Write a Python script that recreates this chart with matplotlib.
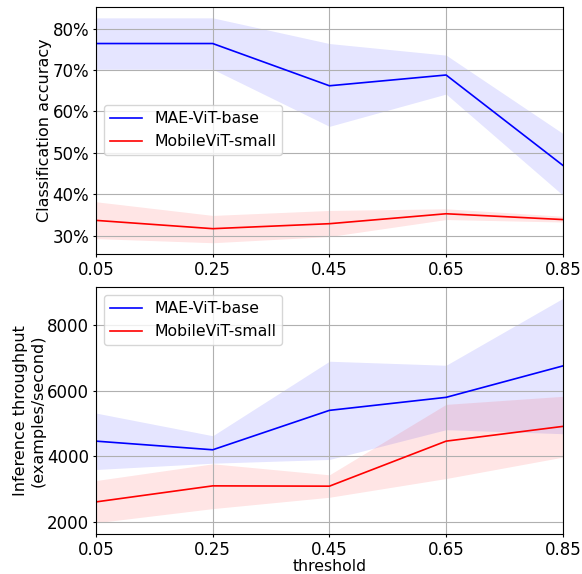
import matplotlib
matplotlib.use("Agg")
import matplotlib.pyplot as plt
from matplotlib.ticker import PercentFormatter

thresholds = [0.05, 0.25, 0.45, 0.65, 0.85]
series_names = ["MAE-ViT-base", "MobileViT-small"]
colors = ["blue", "red"]

# Classification accuracy (%) : mean, lower, upper
acc_mae = [76.4, 76.4, 66.2, 68.8, 47.0]
acc_mae_lo = [70.2, 70.2, 56.4, 64.2, 39.8]
acc_mae_hi = [82.6, 82.6, 76.4, 73.6, 54.7]
acc_mob = [33.7, 31.7, 32.9, 35.3, 33.9]
acc_mob_lo = [29.3, 28.3, 29.8, 33.9, 33.3]
acc_mob_hi = [38.2, 34.9, 36.1, 36.5, 34.7]

# Inference throughput (examples/second) : mean, lower, upper
thr_mae = [4465, 4203, 5398, 5793, 6745]
thr_mae_lo = [3605, 3796, 3909, 4812, 4690]
thr_mae_hi = [5316, 4629, 6888, 6766, 8793]
thr_mob = [2623, 3109, 3100, 4465, 4912]
thr_mob_lo = [1990, 2419, 2763, 3331, 3979]
thr_mob_hi = [3271, 3778, 3444, 5580, 5824]
thr_ticks = [2000, 4000, 6000, 8000]

plt.rcParams["font.size"] = 12

fig = plt.figure(figsize=(5.82, 5.74), dpi=100)
ax1 = fig.add_axes([0.165, 0.5575, 0.802, 0.431])
ax2 = fig.add_axes([0.165, 0.0697, 0.802, 0.430])

for ax, data in [
    (ax1, [(acc_mae, acc_mae_lo, acc_mae_hi), (acc_mob, acc_mob_lo, acc_mob_hi)]),
    (ax2, [(thr_mae, thr_mae_lo, thr_mae_hi), (thr_mob, thr_mob_lo, thr_mob_hi)]),
]:
    for (mean, lo, hi), name, c in zip(data, series_names, colors):
        ax.plot(thresholds, mean, color=c, lw=1.2, label=name)
        ax.fill_between(thresholds, lo, hi, color=c, alpha=0.1, lw=0)
    ax.set_xlim(0.05, 0.85)
    ax.set_xticks(thresholds)
    ax.set_xticklabels([f"{t:.2f}" for t in thresholds])
    ax.tick_params(length=2.4, pad=2.5)
    ax.grid(True)

ax1.yaxis.set_major_formatter(PercentFormatter(xmax=100, decimals=0))
ax1.set_ylabel("Classification accuracy", fontsize=11.5, labelpad=0)
ax1.legend(loc="center left", fontsize=11.3)

ax2.set_yticks(thr_ticks)
ax2.set_ylabel("Inference throughput\n(examples/second)", fontsize=11.5, labelpad=1)
ax2.set_xlabel("threshold", fontsize=11.3, labelpad=0)
ax2.legend(loc="upper left", fontsize=11.3)

fig.savefig("out.png", dpi=100)
